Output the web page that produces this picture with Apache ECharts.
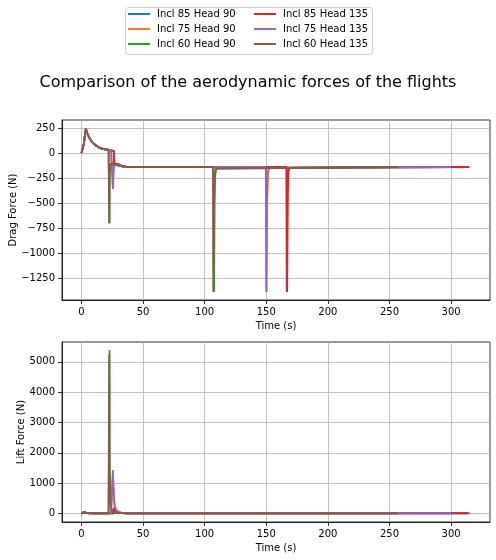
<!DOCTYPE html>
<html>
<head>
<meta charset="utf-8">
<title>Aerodynamic forces</title>
<script src="https://cdn.jsdelivr.net/npm/echarts@6/dist/echarts.min.js"></script>
<style>
  html, body { margin: 0; padding: 0; background: #fff; }
  #chart { width: 496px; height: 560px; }
</style>
</head>
<body>
<div id="chart"></div>
<script>
// series names and colours (matplotlib tab10 order)
var seriesNames = [ 'Incl 85 Head 90', 'Incl 75 Head 90', 'Incl 60 Head 90',
                    'Incl 85 Head 135', 'Incl 75 Head 135', 'Incl 60 Head 135' ];
var seriesColors = [ '#1f77b4', '#ff7f0e', '#2ca02c', '#d62728', '#9467bd', '#8c564b' ];

// axis ticks
var timeTicks = [ 0, 50, 100, 150, 200, 250, 300 ];
var dragTicks = [ -1250, -1000, -750, -500, -250, 0, 250 ];
var liftTicks = [ 0, 1000, 2000, 3000, 4000, 5000 ];

// boost phase, shared by every flight
var boostTime = [ 0, 1, 2, 3, 3.6, 4.5, 6, 8, 10, 12, 14, 16, 18, 20, 22 ];
var boostDrag = [ 0, 12, 95, 200, 243, 205, 160, 120, 92, 72, 57, 47, 40, 35, 31 ];
var boostLift = [ 0, 25, 45, 40, 18, 10, 8, 8, 8, 8, 8, 8, 8, 8, 8 ];

// Incl 85 Head 90
var time85a = [ 24, 26.2, 26.4, 26.7, 27.2, 28, 30, 33, 36, 40, 166.3, 166.6, 167.1, 167.6, 168.5, 170, 313 ];
var drag85a = [ 27, 22, 20, -105, -96, -100, -112, -128, -136, -140, -140, -1390, -450, -190, -148, -141, -140 ];
var lift85a = [ 8, 8, 8, 190, 150, 80, 30, 12, 9, 8, 8, 50, 15, 9, 8, 8, 8 ];

// Incl 75 Head 90
var time75a = [ 24, 25.3, 25.6, 26, 26.5, 27, 28, 30, 33, 36, 40, 149.8, 150.3, 150.8, 151.5, 152.5, 154, 298 ];
var drag75a = [ 27, 23, -355, -200, -115, -100, -105, -118, -132, -138, -140, -140, -1390, -480, -200, -150, -141, -140 ];
var lift75a = [ 8, 8, 1420, 900, 450, 250, 120, 50, 18, 10, 8, 8, 40, 12, 9, 8, 8, 8 ];

// Incl 60 Head 90
var time60a = [ 22.5, 22.8, 23.0, 23.4, 24, 25, 27, 30, 33, 36, 40, 107.2, 107.6, 108.1, 108.6, 109.5, 111, 255 ];
var drag60a = [ 30, -700, -220, -115, -100, -103, -113, -126, -135, -139, -140, -140, -1390, -520, -220, -155, -142, -140 ];
var lift60a = [ 8, 5390, 1500, 520, 200, 80, 30, 14, 10, 9, 8, 8, 55, 14, 9, 8, 8, 8 ];

// Incl 85 Head 135
var time85b = [ 24, 26.2, 26.4, 26.6, 27.1, 28, 30, 33, 36, 40, 166.6, 167.0, 167.5, 168, 169, 170.5, 315 ];
var drag85b = [ 27, 22, 20, -108, -95, -100, -112, -128, -136, -140, -140, -1390, -420, -185, -146, -141, -140 ];
var lift85b = [ 8, 8, 8, 200, 150, 80, 30, 12, 9, 8, 8, 55, 15, 9, 8, 8, 8 ];

// Incl 75 Head 135
var time75b = [ 24, 25.2, 25.5, 25.9, 26.4, 27, 28, 30, 33, 36, 40, 149.6, 150.0, 150.5, 151.2, 152.2, 153.5, 300 ];
var drag75b = [ 27, 23, -360, -205, -118, -100, -105, -118, -132, -138, -140, -140, -1390, -470, -195, -148, -141, -140 ];
var lift75b = [ 8, 8, 1436, 920, 460, 250, 120, 50, 18, 10, 8, 8, 40, 12, 9, 8, 8, 8 ];

// Incl 60 Head 135
var time60b = [ 22.3, 22.5, 22.7, 23.1, 24, 25, 27, 30, 33, 36, 40, 106.7, 107.0, 107.5, 108, 109, 110.5, 257 ];
var drag60b = [ 30, -705, -220, -115, -100, -103, -113, -126, -135, -139, -140, -140, -1390, -520, -220, -155, -142, -140 ];
var lift60b = [ 8, 5225, 1450, 500, 200, 80, 30, 14, 10, 9, 8, 8, 55, 14, 9, 8, 8, 8 ];

var flightTimes = [ time85a, time75a, time60a, time85b, time75b, time60b ];
var flightDrags = [ drag85a, drag75a, drag60a, drag85b, drag75b, drag60b ];
var flightLifts = [ lift85a, lift75a, lift60a, lift85b, lift75b, lift60b ];

//把时间和数值拼成 [t, v] 点列
function pairs( tHead, vHead, tTail, vTail ) {
  var ret = [], i;
  for( i = 0; i < tHead.length; i++ ) {
    ret.push( [ tHead[ i ], vHead[ i ] ] );
  }
  for( i = 0; i < tTail.length; i++ ) {
    ret.push( [ tTail[ i ], vTail[ i ] ] );
  }
  return ret;
}

function minusSign( v ) {
  return String( v ).replace( '-', '\u2212' );
}

var font = 'DejaVu Sans';
var gridLine = { show: true, lineStyle: { color: '#b0b0b0', width: 0.8 } };
var axisLine = { show: true, onZero: false, lineStyle: { color: '#000', width: 0.8 } };
var nameStyle = { fontFamily: font, fontSize: 10, color: '#000' };
var tick = function( values ) {
  return { show: true, inside: false, length: 4, customValues: values, lineStyle: { color: '#000', width: 0.8 } };
};
var label = function( values ) {
  return { color: '#000', fontFamily: font, fontSize: 10, margin: 7, customValues: values, formatter: minusSign };
};

var series = [], i;
for( i = 0; i < seriesNames.length; i++ ) {
  series.push( {
    name: seriesNames[ i ],
    type: 'line',
    xAxisIndex: 0,
    yAxisIndex: 0,
    symbol: 'none',
    lineStyle: { width: 1.8, color: seriesColors[ i ] },
    itemStyle: { color: seriesColors[ i ] },
    data: pairs( boostTime, boostDrag, flightTimes[ i ], flightDrags[ i ] )
  } );
}
for( i = 0; i < seriesNames.length; i++ ) {
  series.push( {
    name: seriesNames[ i ],
    type: 'line',
    xAxisIndex: 1,
    yAxisIndex: 1,
    symbol: 'none',
    lineStyle: { width: 1.8, color: seriesColors[ i ] },
    itemStyle: { color: seriesColors[ i ] },
    data: pairs( boostTime, boostLift, flightTimes[ i ], flightLifts[ i ] )
  } );
}

var legendText = { color: '#000', fontFamily: font, fontSize: 10, padding: [ 0, 0, 0, 2 ] };
var legendBase = {
  orient: 'vertical',
  top: 9,
  padding: 0,
  icon: 'rect',
  itemWidth: 22,
  itemHeight: 2,
  itemGap: 5,
  textStyle: legendText
};

var myChart = echarts.init( document.getElementById( 'chart' ) );
myChart.setOption( {
  animation: false,
  backgroundColor: '#fff',
  title: {
    text: 'Comparison of the aerodynamic forces of the flights',
    left: 'center',
    top: 70,
    textStyle: { fontFamily: font, fontSize: 16, fontWeight: 'normal', color: '#000' }
  },
  graphic: [ {
    type: 'rect',
    shape: { x: 125.5, y: 7.5, width: 247, height: 47, r: 3 },
    style: { fill: '#fff', stroke: '#cccccc', lineWidth: 1 },
    z: -1
  } ],
  legend: [
    echarts.util.extend( { data: seriesNames.slice( 0, 3 ), left: 128 }, legendBase ),
    echarts.util.extend( { data: seriesNames.slice( 3 ), left: 254 }, legendBase )
  ],
  grid: [
    { left: 62, right: 6, top: 120, height: 180, show: true, borderColor: '#000', borderWidth: 0.8, outerBoundsMode: 'none' },
    { left: 62, right: 6, top: 342, height: 180, show: true, borderColor: '#000', borderWidth: 0.8, outerBoundsMode: 'none' }
  ],
  xAxis: [ {
    gridIndex: 0, type: 'value', min: -15.8, max: 331.6,
    name: 'Time (s)', nameLocation: 'middle', nameGap: 21, nameMoveOverlap: false, nameTextStyle: nameStyle,
    axisLine: axisLine, axisTick: tick( timeTicks ), axisLabel: label( timeTicks ), splitLine: gridLine
  }, {
    gridIndex: 1, type: 'value', min: -15.8, max: 331.6,
    name: 'Time (s)', nameLocation: 'middle', nameGap: 21, nameMoveOverlap: false, nameTextStyle: nameStyle,
    axisLine: axisLine, axisTick: tick( timeTicks ), axisLabel: label( timeTicks ), splitLine: gridLine
  } ],
  yAxis: [ {
    gridIndex: 0, type: 'value', min: -1470, max: 330,
    name: 'Drag Force (N)', nameLocation: 'middle', nameGap: 44, nameMoveOverlap: false, nameTextStyle: nameStyle,
    axisLine: axisLine, axisTick: tick( dragTicks ), axisLabel: label( dragTicks ), splitLine: gridLine
  }, {
    gridIndex: 1, type: 'value', min: -280, max: 5655,
    name: 'Lift Force (N)', nameLocation: 'middle', nameGap: 36, nameMoveOverlap: false, nameTextStyle: nameStyle,
    axisLine: axisLine, axisTick: tick( liftTicks ), axisLabel: label( liftTicks ), splitLine: gridLine
  } ],
  series: series
} );
</script>
</body>
</html>
